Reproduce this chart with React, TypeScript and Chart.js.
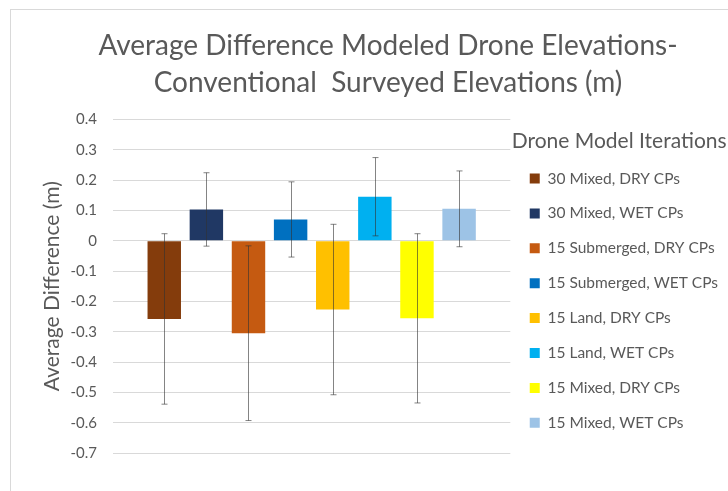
import React, { useEffect, useRef } from "react";
import { Chart, registerables } from "chart.js";

Chart.register(...registerables);

const seriesNames = [
  "30 Mixed, DRY CPs",
  "30 Mixed, WET CPs",
  "15 Submerged, DRY CPs",
  "15 Submerged, WET CPs",
  "15 Land, DRY CPs",
  "15 Land, WET CPs",
  "15 Mixed, DRY CPs",
  "15 Mixed, WET CPs",
];
const seriesValues = [-0.258, 0.103, -0.305, 0.07, -0.227, 0.145, -0.256, 0.105];
const seriesErrors = [0.281, 0.121, 0.288, 0.124, 0.281, 0.129, 0.279, 0.125];
const seriesColors = [
  "#843C0C",
  "#203864",
  "#C55A11",
  "#0070C0",
  "#FFC000",
  "#00B0F0",
  "#FFFF00",
  "#9DC3E6",
];
const categories = [""];
const titleLines = ["Average Difference Modeled Drone Elevations-", "Conventional  Surveyed Elevations (m)"];
const yAxisTitle = "Average Difference (m)";
const legendTitle = "Drone Model Iterations";
const yMin = -0.7;
const yMax = 0.4;
const yStep = 0.1;

const TEXT = "#595959";
const FONT = "Lato";

const framePlugin = {
  id: "frame",
  beforeDraw(chart: any) {
    const { ctx, width, height } = chart;
    ctx.save();
    ctx.fillStyle = "#ffffff";
    ctx.fillRect(0, 0, width, height);
    ctx.strokeStyle = "#d9d9d9";
    ctx.lineWidth = 1;
    ctx.strokeRect(10.5, 9.5, width + 20, height + 20);
    ctx.restore();
  },
};

const errorBarPlugin = {
  id: "errorBars",
  afterDatasetsDraw(chart: any) {
    const { ctx } = chart;
    const yScale = chart.scales.y;
    ctx.save();
    ctx.strokeStyle = "rgba(50,50,50,0.6)";
    ctx.lineWidth = 1;
    chart.data.datasets.forEach((ds: any, i: number) => {
      const meta = chart.getDatasetMeta(i);
      if (meta.hidden) return;
      meta.data.forEach((bar: any, j: number) => {
        const v = ds.data[j];
        const e = ds.errors[j];
        const x = Math.round(bar.x) + 0.5;
        const yt = yScale.getPixelForValue(v + e);
        const yb = yScale.getPixelForValue(v - e);
        ctx.beginPath();
        ctx.moveTo(x, yt);
        ctx.lineTo(x, yb);
        ctx.moveTo(x - 3, yt);
        ctx.lineTo(x + 3, yt);
        ctx.moveTo(x - 3, yb);
        ctx.lineTo(x + 3, yb);
        ctx.stroke();
      });
    });
    ctx.restore();
  },
};

export default function App() {
  const ref = useRef<HTMLCanvasElement | null>(null);

  useEffect(() => {
    document.body.style.margin = "0";
    const canvas = ref.current;
    if (!canvas) return;
    const chart = new Chart(canvas, {
      type: "bar",
      data: {
        labels: categories,
        datasets: seriesNames.map((name, i) => ({
          label: name,
          data: [seriesValues[i]],
          errors: [seriesErrors[i]],
          backgroundColor: seriesColors[i],
          borderWidth: 0,
          categoryPercentage: 0.848,
          barPercentage: 0.794,
        })) as any,
      },
      options: {
        animation: false,
        responsive: false,
        maintainAspectRatio: false,
        devicePixelRatio: 1,
        layout: { padding: { left: 48, top: 0, right: 0, bottom: 38 } },
        scales: {
          x: {
            display: false,
          },
          y: {
            min: yMin,
            max: yMax,
            afterFit(scale: any) {
              scale.width = 65;
            },
            ticks: {
              stepSize: yStep,
              padding: 16,
              color: TEXT,
              font: { family: FONT, size: 15 },
              callback: (v: any) => {
                const r = Math.round(Number(v) * 10) / 10;
                return (r === 0 ? 0 : r).toString();
              },
            },
            grid: { color: "#d9d9d9", drawTicks: false, lineWidth: 1 },
            border: { display: false },
            title: {
              display: true,
              text: yAxisTitle,
              color: TEXT,
              font: { family: FONT, size: 21 },
              padding: { top: -8, bottom: 2 },
            },
          },
        },
        plugins: {
          title: {
            display: true,
            text: titleLines,
            color: TEXT,
            font: { family: FONT, size: 28, weight: "normal", lineHeight: 1.31 },
            padding: { top: 28, bottom: 18 },
          },
          legend: {
            display: true,
            position: "right",
            align: "start",
            fullSize: false,
            maxWidth: 260,
            title: {
              display: true,
              text: legendTitle,
              position: "center",
              color: TEXT,
              font: { family: FONT, size: 21, lineHeight: 1 },
              padding: { top: 11, bottom: 0 },
            },
            labels: {
              color: TEXT,
              font: { family: FONT, size: 15.5 },
              boxWidth: 10,
              boxHeight: 10,
              padding: 19.4,
            },
          },
          tooltip: { enabled: false },
        },
      } as any,
      plugins: [framePlugin, errorBarPlugin],
    });
    return () => chart.destroy();
  }, []);

  return (
    <div style={{ width: 728, height: 491 }}>
      <canvas ref={ref} width={728} height={491} style={{ display: "block", width: 728, height: 491 }} />
    </div>
  );
}
